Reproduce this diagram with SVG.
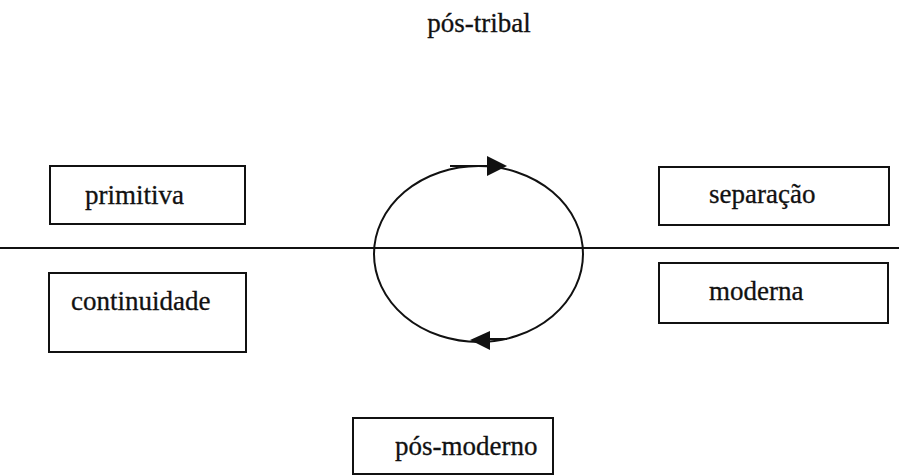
<svg xmlns="http://www.w3.org/2000/svg" width="899" height="476" viewBox="0 0 899 476">
  <style>
    .box { fill: #fff; stroke: #111; stroke-width: 2; }
    .lbl { font-family: "Liberation Serif", "Times New Roman", serif; font-size: 27px; fill: #111; stroke: #111; stroke-width: 0.3; }
    .conn { fill: none; stroke: #111; stroke-width: 2; }
    .head { fill: #111; stroke: none; }
  </style>
  <rect width="899" height="476" fill="#fff"/>

  <text class="lbl" x="479" y="32" text-anchor="middle">pós-tribal</text>

  <g id="connectors">
    <line class="conn" x1="0" y1="248" x2="899" y2="248"/>
    <ellipse class="conn" cx="478.5" cy="254" rx="104.5" ry="88"/>
    <!-- upper arrow: left to right -->
    <line class="conn" x1="450" y1="166" x2="490" y2="166"/>
    <polygon class="head" points="487,156 507,166 487,176"/>
    <!-- lower arrow: right to left -->
    <line class="conn" x1="507" y1="339" x2="486" y2="339"/>
    <polygon class="head" points="490,331 470,340 490,350"/>
  </g>

  <g id="primitiva">
    <rect class="box" x="50" y="166" width="195" height="58"/>
    <text class="lbl" x="85" y="204">primitiva</text>
  </g>
  <g id="continuidade">
    <rect class="box" x="49" y="273" width="197" height="79"/>
    <text class="lbl" x="71" y="310">continuidade</text>
  </g>
  <g id="separacao">
    <rect class="box" x="659" y="167" width="230" height="58"/>
    <text class="lbl" x="709" y="203">separação</text>
  </g>
  <g id="moderna">
    <rect class="box" x="659" y="263" width="229" height="60"/>
    <text class="lbl" x="709" y="300">moderna</text>
  </g>
  <g id="pos-moderno">
    <rect class="box" x="353" y="418" width="200" height="56"/>
    <text class="lbl" x="395" y="455">pós-moderno</text>
  </g>
</svg>
